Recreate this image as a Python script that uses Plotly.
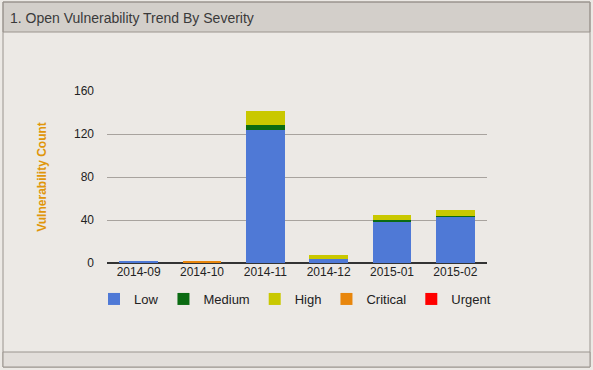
import plotly.graph_objects as go

months = ["2014-09", "2014-10", "2014-11", "2014-12", "2015-01", "2015-02"]
low = [2, 0, 124, 4, 38, 43]
medium = [0, 0, 4, 0, 2, 1]
high = [0, 0, 13, 3, 5, 5]
critical = [0, 1, 0, 0, 0, 0]
urgent = [0, 0, 0, 0, 0, 0]
y_ticks = [0, 40, 80, 120, 160]

series = [("Low", low, "#4f79d6"), ("Medium", medium, "#0b6b12"),
          ("High", high, "#c9c800"), ("Critical", critical, "#e8860c"),
          ("Urgent", urgent, "#ff0000")]

W, H = 593, 370
L, R, T, B = 107, 487, 91, 263

fig = go.Figure()
for name, vals, col in series:
    fig.add_trace(go.Bar(x=months, y=vals, name=name, marker_color=col,
                         marker_line_width=0))

def px(x):
    return x / W

def py(y):
    return (B - y) / (B - T)

shapes = [
    dict(type="rect", xref="paper", yref="paper", x0=px(3), x1=px(590), y0=py(32), y1=py(2),
         fillcolor="#d3cfca", line=dict(color="#9a948e", width=1), layer="below"),
    dict(type="rect", xref="paper", yref="paper", x0=px(3), x1=px(590), y0=py(367), y1=py(2),
         fillcolor="rgba(0,0,0,0)", line=dict(color="#9a948e", width=1), layer="below"),
    dict(type="rect", xref="paper", yref="paper", x0=px(3), x1=px(590), y0=py(367), y1=py(352),
         fillcolor="#e2deda", line=dict(color="#9a948e", width=1), layer="below"),
]

fig.update_layout(
    width=W, height=H,
    margin=dict(l=0, r=0, t=T, b=H - B, pad=0, autoexpand=False),
    paper_bgcolor="#ece9e5", plot_bgcolor="rgba(0,0,0,0)",
    barmode="stack", bargap=0.39,
    font=dict(family="Arial, Liberation Sans, sans-serif", size=12, color="#222222"),
    shapes=shapes,
    annotations=[dict(text="1. Open Vulnerability Trend By Severity", xref="paper", yref="paper",
                      x=px(8), y=py(18), xanchor="left", yanchor="middle", showarrow=False,
                      font=dict(size=14, color="#3a3a3a"))],
    xaxis=dict(type="category", domain=[L / W, R / W], showgrid=False, showline=False, ticks="",
               tickfont=dict(size=12, color="#222222")),
    yaxis=dict(range=[0, 160], tickvals=y_ticks, showgrid=True, gridcolor="#a8a39e", gridwidth=1,
               zeroline=True, zerolinecolor="#333333", zerolinewidth=1.5,
               tickfont=dict(size=12, color="#222222"), ticklabelstandoff=12,
               title=dict(text="<b>Vulnerability Count</b>", standoff=24,
                          font=dict(size=12, color="#e0960a"))),
    legend=dict(orientation="h", traceorder="normal", x=px(295), xanchor="center",
                y=py(299), yanchor="middle",
                font=dict(size=13, color="#222222"),
                bgcolor="rgba(0,0,0,0)", itemwidth=30),
)

fig.write_html("out.html", config={"displayModeBar": False},
               post_script="document.body.style.margin='0';document.body.style.overflow='hidden';")
